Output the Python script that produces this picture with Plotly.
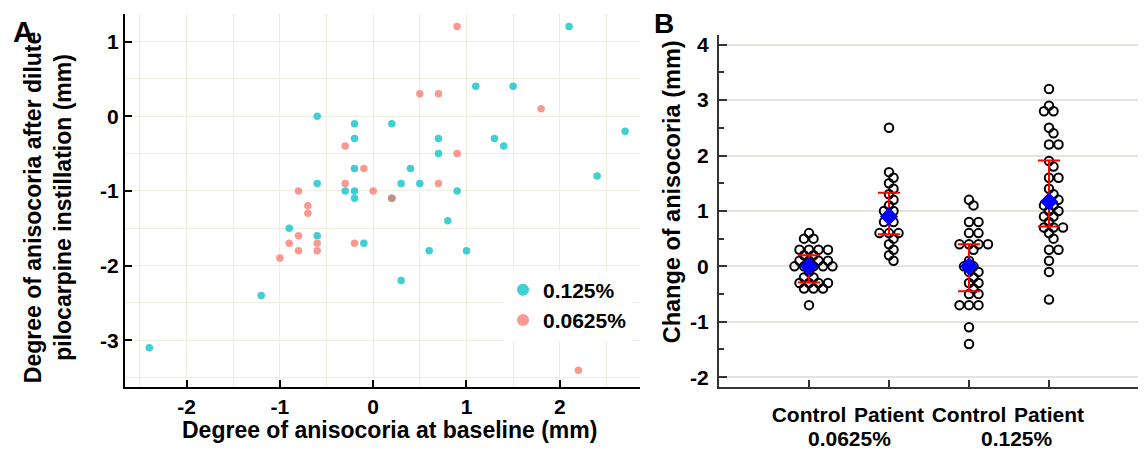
import plotly.graph_objects as go

# ---------------- Panel A data ----------------
a_x_125 = [-0.6, -0.2, -0.2, -0.2, -0.6, -0.3, -0.2, -0.2, 2.1, 1.1, 1.5, 0.2, 0.7, 1.3, 1.4, 2.7,
           0.7, 0.4, 0.3, 0.5, 2.4, 0.9, 0.2, -0.9, -0.6, -0.1, -1.2, -2.4, 0.8, 0.6, 1.0, 0.3]
a_y_125 = [0.0, -0.1, -0.3, -0.7, -0.9, -1.0, -1.0, -1.1, 1.2, 0.4, 0.4, -0.1, -0.3, -0.3, -0.4, -0.2,
           -0.5, -0.7, -0.9, -0.9, -0.8, -1.0, -1.1, -1.5, -1.6, -1.7, -2.4, -3.1, -1.4, -1.8, -1.8, -2.2]
a_x_0625 = [-0.3, -0.1, -0.3, -0.8, 0.0, 0.9, 0.5, 0.7, 1.8, 0.9, 0.7, 0.2, -0.7, -0.7, -0.8, -0.9,
            -0.6, -0.2, -0.8, -0.6, -1.0, 2.2]
a_y_0625 = [-0.4, -0.7, -0.9, -1.0, -1.0, 1.2, 0.3, 0.3, 0.1, -0.5, -0.9, -1.1, -1.2, -1.3, -1.6, -1.7,
            -1.7, -1.7, -1.8, -1.8, -1.9, -3.4]
a_xticks = [-2, -1, 0, 1, 2]
a_yticks = [-3, -2, -1, 0, 1]

# ---------------- Panel B data ----------------
b_categories = ["Control", "Patient", "Control", "Patient"]
b_groups = ["0.0625%", "0.125%"]
ctrl_0625 = [0.6, 0.5, 0.5, 0.3, 0.3, 0.3, 0.3, 0.2, 0.2, 0.1, 0.1, 0.1, 0.1, 0.0, 0.0, 0.0, 0.0, 0.0,
             -0.1, -0.2, -0.2, -0.3, -0.3, -0.3, -0.3, -0.4, -0.4, -0.4, -0.7]
pat_0625 = [2.5, 1.7, 1.6, 1.5, 1.4, 1.3, 1.2, 1.1, 1.0, 1.0, 0.9, 0.8, 0.8, 0.6, 0.6, 0.6, 0.5, 0.4,
            0.3, 0.2, 0.1]
ctrl_125 = [1.2, 1.1, 0.8, 0.8, 0.6, 0.6, 0.4, 0.4, 0.4, 0.4, 0.3, 0.1, 0.0, 0.0, -0.1, -0.1, -0.2,
            -0.3, -0.3, -0.4, -0.5, -0.5, -0.7, -0.7, -0.7, -1.1, -1.4]
pat_125 = [3.2, 2.9, 2.8, 2.8, 2.5, 2.4, 2.2, 2.2, 1.9, 1.8, 1.6, 1.6, 1.4, 1.3, 1.2, 1.2, 1.1, 1.1,
           1.0, 1.0, 0.9, 0.9, 0.8, 0.7, 0.7, 0.7, 0.6, 0.5, 0.3, 0.3, 0.1, -0.1, -0.6]
b_means = [0.0, 0.9, 0.0, 1.17]
b_upper = [0.2, 1.33, 0.4, 1.91]
b_lower = [-0.29, 0.58, -0.45, 0.72]
b_yticks = [-2, -1, 0, 1, 2, 3, 4]

W, H = 1144, 455
FONT = "Liberation Sans, Arial, sans-serif"
CYAN = "#00BFC4"
PINK = "#F8766D"

# plot-area geometry (pixels)
A_L, A_R, A_T, A_B = 125, 640, 12, 388
B_L, B_R, B_T, B_B = 719, 1138, 33, 388
A_XR = [-2.66, 2.86]
A_YR = [-3.62, 1.37]
B_XR = [-1.125, 4.1125]
B_YR = [-2.17, 4.18]


def swarm(vals, center, d=9.5, yscale=1.5, step=0.5):
    """simple beeswarm: horizontal offsets so circles sharing a value sit side by side"""
    sx = (B_R - B_L) / (B_XR[1] - B_XR[0])
    sy = (B_B - B_T) / (B_YR[1] - B_YR[0]) * yscale
    placed = []
    xs = [0.0] * len(vals)
    order = sorted(range(len(vals)), key=lambda i: -vals[i])
    for i in order:
        ypx = vals[i] * sy
        k = 0
        chosen = None
        while chosen is None:
            cands = [0.0] if k == 0 else [k * step, -k * step]
            for c in cands:
                if all((c - px) ** 2 + (ypx - py) ** 2 >= d * d for px, py in placed):
                    chosen = c
                    break
            k += 1
        placed.append((chosen, ypx))
        xs[i] = center + chosen / sx
    return xs


fig = go.Figure()

# Panel A scatter
fig.add_trace(go.Scatter(x=a_x_125, y=a_y_125, mode="markers", xaxis="x", yaxis="y",
                         marker=dict(color=CYAN, size=7.5, opacity=0.75, line=dict(width=0)),
                         showlegend=False, hoverinfo="skip"))
fig.add_trace(go.Scatter(x=a_x_0625, y=a_y_0625, mode="markers", xaxis="x", yaxis="y",
                         marker=dict(color=PINK, size=7.5, opacity=0.75, line=dict(width=0)),
                         showlegend=False, hoverinfo="skip"))
# legend entries
fig.add_trace(go.Scatter(x=[None], y=[None], mode="markers", name="0.125%", xaxis="x", yaxis="y",
                         marker=dict(color=CYAN, size=12, opacity=0.75)))
fig.add_trace(go.Scatter(x=[None], y=[None], mode="markers", name="0.0625%", xaxis="x", yaxis="y",
                         marker=dict(color=PINK, size=12, opacity=0.75)))

# Panel B dots
groups = [ctrl_0625, pat_0625, ctrl_125, pat_125]
for gi, vals in enumerate(groups):
    fig.add_trace(go.Scatter(x=swarm(vals, gi), y=vals, mode="markers", xaxis="x2", yaxis="y2",
                             marker=dict(symbol="circle-open", color="black", size=8.5,
                                         line=dict(width=2, color="black")),
                             showlegend=False, hoverinfo="skip"))

# Panel B summary (mean diamond + bars)
fig.add_trace(go.Scatter(
    x=list(range(len(b_means))), y=b_means, mode="markers", xaxis="x2", yaxis="y2",
    marker=dict(symbol="diamond", color="#0000FF", size=14, line=dict(width=0)),
    error_y=dict(type="data", symmetric=False,
                 array=[u - m for u, m in zip(b_upper, b_means)],
                 arrayminus=[m - l for m, l in zip(b_means, b_lower)],
                 color="#FF0000", thickness=2, width=11),
    showlegend=False, hoverinfo="skip"))

tickfont = dict(family=FONT, size=21, color="black", weight="bold")
gridA = "#EDEDE0"

fig.update_layout(
    width=W, height=H, autosize=False,
    margin=dict(l=0, r=0, t=0, b=0),
    paper_bgcolor="white", plot_bgcolor="white",
    font=dict(family=FONT, color="black"),
    xaxis=dict(domain=[A_L / W, A_R / W], anchor="y", range=A_XR,
               tickvals=a_xticks, ticktext=[str(v) for v in a_xticks],
               ticks="inside", ticklen=7, tickwidth=2, tickcolor="black",
               showline=True, linewidth=2, linecolor="black",
               showgrid=True, gridcolor=gridA, gridwidth=1, zeroline=False,
               minor=dict(dtick=0.5, showgrid=True, gridcolor=gridA, gridwidth=1, ticks=""),
               tickfont=tickfont),
    yaxis=dict(domain=[1 - A_B / H, 1 - A_T / H], anchor="x", range=A_YR,
               tickvals=a_yticks, ticktext=[str(v) for v in a_yticks],
               ticks="inside", ticklen=7, tickwidth=2, tickcolor="black",
               showline=True, linewidth=2, linecolor="black",
               showgrid=True, gridcolor=gridA, gridwidth=1, zeroline=False,
               minor=dict(dtick=0.5, showgrid=True, gridcolor=gridA, gridwidth=1, ticks=""),
               tickfont=tickfont),
    xaxis2=dict(domain=[B_L / W, B_R / W], anchor="y2", range=B_XR,
                tickvals=list(range(len(b_categories))), ticktext=b_categories,
                ticks="inside", ticklen=7, tickwidth=1.5, tickcolor="#333333",
                showline=True, linewidth=2, linecolor="#333333",
                showgrid=False, zeroline=False, ticklabelstandoff=8,
                tickfont=tickfont),
    yaxis2=dict(domain=[1 - B_B / H, 1 - B_T / H], anchor="x2", range=B_YR,
                tickvals=b_yticks, ticktext=[str(v) for v in b_yticks],
                ticks="inside", ticklen=8, tickwidth=1.5, tickcolor="#333333",
                minor=dict(dtick=0.5, ticks="inside", ticklen=5, tickwidth=1.5, tickcolor="#333333",
                           showgrid=False),
                showline=True, linewidth=2, linecolor="#333333",
                showgrid=True, gridcolor="#E4E4DC", gridwidth=1.5, zeroline=False,
                ticklabelstandoff=4,
                tickfont=tickfont),
    legend=dict(x=503 / W, y=1 - 270 / H, xanchor="left", yanchor="top",
                bgcolor="white", borderwidth=0, itemwidth=30,
                font=dict(family=FONT, size=21, color="black", weight="bold")),
)

titlefont = dict(family=FONT, size=23, color="black", weight="bold")
anns = [
    dict(text="A", x=23 / W, y=1 - 30 / H, font=dict(family=FONT, size=29, weight="bold", color="black")),
    dict(text="B", x=664 / W, y=1 - 22 / H, font=dict(family=FONT, size=28, weight="bold", color="black")),
    dict(text="Degree of anisocoria at baseline (mm)", x=389 / W, y=1 - 432 / H, font=titlefont),
    dict(text="Degree of anisocoria after dilute<br>pilocarpine instillation (mm)", x=48 / W, y=1 - 208 / H,
         textangle=-90, font=titlefont),
    dict(text="Change of anisocoria (mm)", x=672 / W, y=1 - 192 / H, textangle=-90,
         font=dict(family=FONT, size=23.5, color="black", weight="bold")),
]
for a in anns:
    fig.add_annotation(xref="paper", yref="paper", showarrow=False, xanchor="center", yanchor="middle", **a)

for gx, gname in zip([0.5, 2.6], b_groups):
    fig.add_annotation(xref="x2", yref="paper", x=gx, y=1 - 440 / H, text=gname, showarrow=False,
                       xanchor="center", yanchor="middle",
                       font=dict(family=FONT, size=21, color="black", weight="bold"))

fig.write_html("out.html", config={"displayModeBar": False},
               post_script="document.body.style.margin='0';document.body.style.overflow='hidden';")
